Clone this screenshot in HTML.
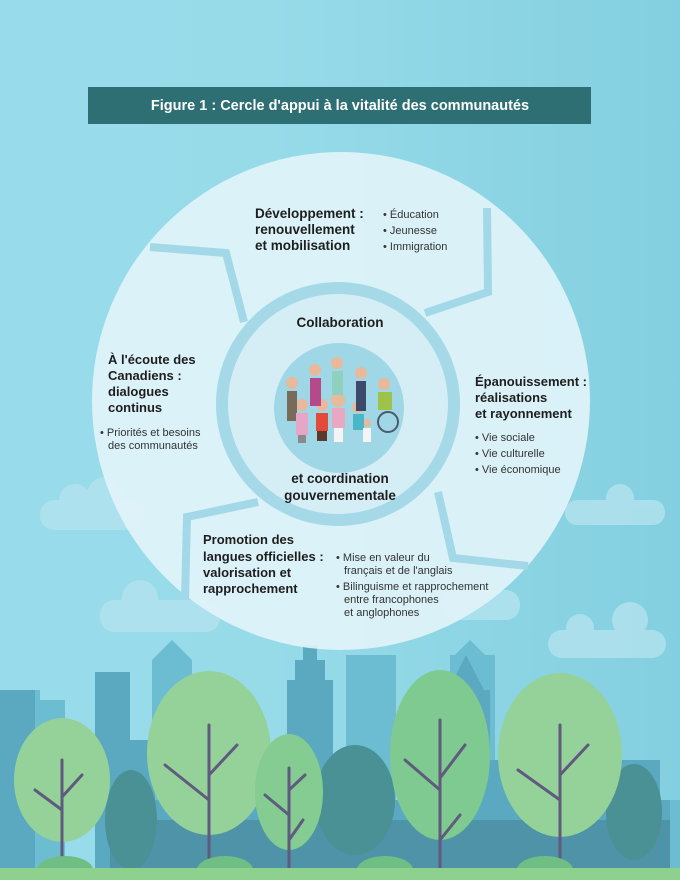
<!DOCTYPE html>
<html><head><meta charset="utf-8"><style>
html,body{margin:0;padding:0;width:680px;height:880px;overflow:hidden}
svg{display:block}
text{font-family:"Liberation Sans",sans-serif;fill:#222}
.b{font-weight:bold;font-size:13px;fill:#1e1e1e}
.s{font-size:11px;fill:#333}
</style></head><body>
<svg width="680" height="880" viewBox="0 0 680 880" xmlns="http://www.w3.org/2000/svg">
<defs>
<linearGradient id="sky" x1="0" y1="0" x2="1" y2="0">
<stop offset="0" stop-color="#98dbea"/><stop offset="0.4" stop-color="#97dbe9"/><stop offset="1" stop-color="#83cfe0"/>
</linearGradient>
</defs>
<rect width="680" height="880" fill="url(#sky)"/>
<g fill="#b3e3ee" opacity="0.8">
<rect x="40" y="500" width="105" height="30" rx="14"/><circle cx="75" cy="500" r="16"/><circle cx="105" cy="495" r="18"/>
<rect x="100" y="600" width="120" height="32" rx="14"/><circle cx="140" cy="598" r="18"/>
<rect x="548" y="630" width="118" height="28" rx="14"/><circle cx="580" cy="628" r="14"/><circle cx="630" cy="620" r="18"/>
<rect x="565" y="500" width="100" height="25" rx="12"/><circle cx="620" cy="498" r="14"/>
<rect x="440" y="590" width="80" height="30" rx="14"/>
</g>
<g fill="#6cbcd2">
<rect x="0" y="690" width="40" height="180"/><rect x="40" y="700" width="25" height="170"/>
<rect x="152" y="660" width="40" height="210"/><polygon points="152,660 172,640 192,660"/>
<rect x="346" y="655" width="50" height="215"/>
<rect x="450" y="655" width="45" height="215"/><polygon points="450,660 470,640 490,660"/>
<rect x="640" y="800" width="40" height="70"/>
</g>
<g fill="#5aa9c1">
<rect x="0" y="690" width="35" height="180"/>
<rect x="95" y="672" width="35" height="70"/><rect x="95" y="740" width="60" height="130"/>
<rect x="287" y="680" width="46" height="190"/><rect x="295" y="660" width="30" height="22"/><rect x="303" y="645" width="14" height="16"/>
<rect x="440" y="690" width="50" height="180"/><polygon points="448,690 466,655 484,690"/>
<rect x="540" y="695" width="40" height="175"/>
<rect x="400" y="760" width="260" height="110"/>
<rect x="150" y="800" width="520" height="70"/>
</g>
<g fill="#4e93a8"><rect x="110" y="820" width="560" height="50"/></g>
<g fill="#4a9196">
<ellipse cx="131" cy="820" rx="26" ry="50"/>
<ellipse cx="355" cy="800" rx="40" ry="55"/>
<ellipse cx="634" cy="812" rx="28" ry="48"/>
</g>
<g>
<ellipse cx="62" cy="780" rx="48" ry="62" fill="#95d29a"/>
<ellipse cx="209" cy="753" rx="62" ry="82" fill="#95d29a"/>
<ellipse cx="289" cy="792" rx="34" ry="58" fill="#84cc92"/>
<ellipse cx="440" cy="755" rx="50" ry="85" fill="#7fca90"/>
<ellipse cx="560" cy="755" rx="62" ry="82" fill="#95d29a"/>
</g>
<g stroke="#5f5a7e" stroke-width="3" fill="none" stroke-linecap="round">
<path d="M62 760V865M62 810L35 790M62 797L82 775"/>
<path d="M209 725V865M209 800L165 765M209 775L237 745"/>
<path d="M289 768V870M289 815L265 795M289 790L305 775M289 840L303 820"/>
<path d="M440 720V870M440 790L405 760M440 778L465 745M440 840L460 815"/>
<path d="M560 725V865M560 800L518 770M560 775L588 745"/>
</g>
<g fill="#6fbe84">
<ellipse cx="65" cy="870" rx="28" ry="14"/><ellipse cx="225" cy="870" rx="28" ry="14"/>
<ellipse cx="385" cy="870" rx="28" ry="14"/><ellipse cx="545" cy="870" rx="28" ry="14"/>
</g>
<rect x="0" y="868" width="680" height="12" fill="#8ed18f"/>

<rect x="88" y="87" width="503" height="37" fill="#2e6f74"/>
<text x="340" y="110" text-anchor="middle" style="font-weight:bold;font-size:14.5px;fill:#fff">Figure 1 : Cercle d'appui à la vitalité des communautés</text>

<circle cx="341" cy="401" r="249" fill="#e2f4f9" opacity="0.9"/>
<g stroke="#a2d8e7" stroke-width="8" fill="none">
<polyline points="150,247 226,253 244,322"/>
<polyline points="487,208 488,292 425,313"/>
<polyline points="438,492 453,558 528,566"/>
<polyline points="258,502 187,517 185,600"/>
</g>
<circle cx="338" cy="404" r="122" fill="#a5d9e8"/>
<circle cx="338" cy="404" r="110" fill="#d5eef6"/>
<circle cx="339" cy="408" r="65" fill="#9fd7e7"/>
<g>
<g fill="#e8b99a"><circle cx="292" cy="383" r="6"/><circle cx="315" cy="370" r="6"/><circle cx="337" cy="363" r="6"/><circle cx="361" cy="373" r="6"/><circle cx="384" cy="384" r="6"/><circle cx="302" cy="405" r="6"/><circle cx="322" cy="405" r="6"/><circle cx="338" cy="400" r="7"/><circle cx="358" cy="407" r="6"/><circle cx="367" cy="423" r="4"/></g>
<rect x="287" y="391" width="10" height="30" fill="#7a6a5a"/>
<rect x="310" y="378" width="11" height="28" fill="#b44a8a"/>
<rect x="332" y="371" width="11" height="24" fill="#8fd1c0"/>
<rect x="356" y="381" width="10" height="30" fill="#3b4a6a"/>
<rect x="378" y="392" width="14" height="18" fill="#9fc34a"/>
<rect x="296" y="413" width="12" height="22" fill="#e6a6c8"/>
<rect x="316" y="413" width="12" height="18" fill="#e44a3a"/>
<rect x="317" y="431" width="10" height="10" fill="#5a3a2a"/>
<rect x="332" y="408" width="13" height="20" fill="#e8a9c0"/>
<rect x="334" y="428" width="9" height="14" fill="#f4f4f4"/>
<rect x="353" y="414" width="11" height="16" fill="#4ab7c8"/>
<rect x="363" y="428" width="8" height="14" fill="#f4f4f4"/>
<circle cx="388" cy="422" r="10" fill="none" stroke="#4a5a6a" stroke-width="2"/>
<rect x="298" y="435" width="8" height="8" fill="#8a8a8a"/>
</g>

<text class="b" x="255" y="218" style="font-size:13.5px">Développement :</text>
<text class="b" x="255" y="234" style="font-size:13.5px">renouvellement</text>
<text class="b" x="255" y="250" style="font-size:13.5px">et mobilisation</text>
<text class="s" x="383" y="218">• Éducation</text>
<text class="s" x="383" y="234">• Jeunesse</text>
<text class="s" x="383" y="250">• Immigration</text>

<text class="b" x="340" y="327" text-anchor="middle" style="font-size:13.5px">Collaboration</text>
<text class="b" x="340" y="483" text-anchor="middle" style="font-size:13.5px">et coordination</text>
<text class="b" x="340" y="500" text-anchor="middle" style="font-size:13.5px">gouvernementale</text>

<text class="b" x="108" y="364">À l'écoute des</text>
<text class="b" x="108" y="380">Canadiens :</text>
<text class="b" x="108" y="396">dialogues</text>
<text class="b" x="108" y="412">continus</text>
<text class="s" x="100" y="436">• Priorités et besoins</text>
<text class="s" x="108" y="449">des communautés</text>

<text class="b" x="475" y="386">Épanouissement :</text>
<text class="b" x="475" y="402">réalisations</text>
<text class="b" x="475" y="418">et rayonnement</text>
<text class="s" x="475" y="441">• Vie sociale</text>
<text class="s" x="475" y="457">• Vie culturelle</text>
<text class="s" x="475" y="473">• Vie économique</text>

<text class="b" x="203" y="544">Promotion des</text>
<text class="b" x="203" y="561">langues officielles :</text>
<text class="b" x="203" y="577">valorisation et</text>
<text class="b" x="203" y="593">rapprochement</text>
<text class="s" x="336" y="561">• Mise en valeur du</text>
<text class="s" x="344" y="574">français et de l'anglais</text>
<text class="s" x="336" y="590">• Bilinguisme et rapprochement</text>
<text class="s" x="344" y="603">entre francophones</text>
<text class="s" x="344" y="616">et anglophones</text>
</svg>
</body></html>
